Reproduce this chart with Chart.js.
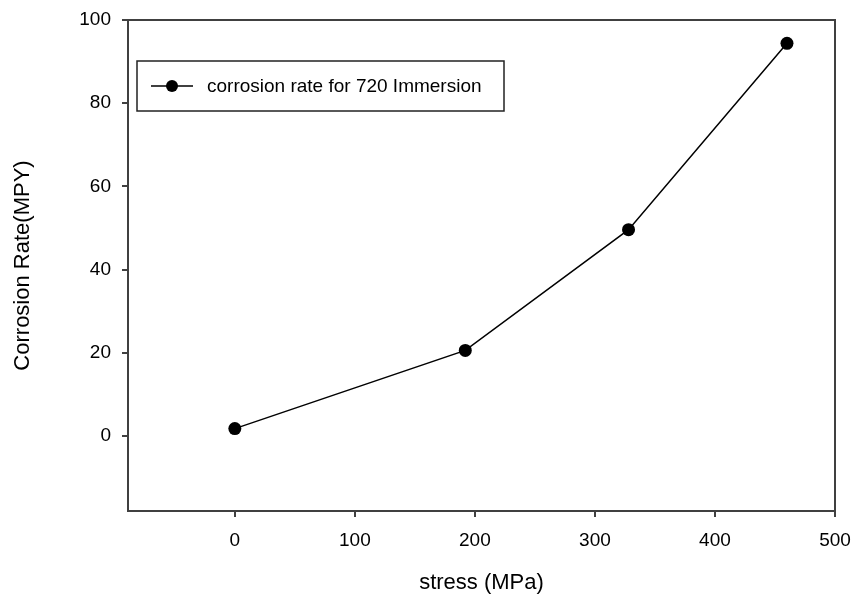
<!DOCTYPE html>
<html>
<head>
<meta charset="utf-8">
<script src="https://cdn.jsdelivr.net/npm/chart.js@4"></script>
<style>
  html, body { margin: 0; padding: 0; background: #fff; }
  #wrap { width: 854px; height: 594px; position: relative; }
</style>
</head>
<body>
<div id="wrap"><canvas id="corrChart"></canvas></div>
<script>
// data
const stress = [0, 192, 328, 460];
const corrosionRate = [1.8, 20.6, 49.6, 94.4];
const seriesLabel = 'corrosion rate for 720 Immersion';
const xTicks = [0, 100, 200, 300, 400, 500];
const yTicks = [0, 20, 40, 60, 80, 100];

const axisColor = '#404040';
const fontFamily = 'Liberation Sans, Arial, sans-serif';

// box round the plot area (top and right sides)
const framePlugin = {
    id: 'frame',
    afterDraw(chart) {
        const a = chart.chartArea;
        const ctx = chart.ctx;
        ctx.save();
        ctx.strokeStyle = axisColor;
        ctx.lineWidth = 2;
        ctx.beginPath();
        ctx.moveTo(a.left, a.top);
        ctx.lineTo(a.right, a.top);
        ctx.lineTo(a.right, a.bottom);
        ctx.stroke();
        ctx.restore();
    }
};

// legend box inside the plot
const boxLegend = {
    id: 'boxLegend',
    afterDraw(chart) {
        const ctx = chart.ctx;
        const ds = chart.data.datasets[0];
        const x0 = 137, y0 = 61, w = 367, h = 50;
        ctx.save();
        ctx.fillStyle = '#fff';
        ctx.fillRect(x0, y0, w, h);
        ctx.strokeStyle = '#222';
        ctx.lineWidth = 1.5;
        ctx.strokeRect(x0, y0, w, h);
        const cy = y0 + h / 2;
        ctx.strokeStyle = '#000';
        ctx.lineWidth = 1.5;
        ctx.beginPath();
        ctx.moveTo(151, cy);
        ctx.lineTo(193, cy);
        ctx.stroke();
        ctx.fillStyle = '#000';
        ctx.beginPath();
        ctx.arc(172, cy, 6, 0, Math.PI * 2);
        ctx.fill();
        ctx.font = '19px ' + fontFamily;
        ctx.textBaseline = 'middle';
        ctx.fillText(ds.label, 207, cy + 1);
        ctx.restore();
    }
};

const ctx = document.getElementById('corrChart').getContext('2d');
const myChart = new Chart(ctx, {
    type: 'scatter',
    data: {
        datasets: [{
            label: seriesLabel,
            data: stress.map((s, i) => ({x: s, y: corrosionRate[i]})),
            showLine: true,
            borderColor: '#000',
            borderWidth: 1.5,
            pointRadius: 6.5,
            pointHoverRadius: 6.5,
            pointBackgroundColor: '#000',
            pointBorderWidth: 0,
            clip: false
        }]
    },
    options: {
        responsive: true,
        maintainAspectRatio: false,
        animation: false,
        layout: {
            padding: {top: 20, right: 19, left: 0, bottom: 0}
        },
        scales: {
            x: {
                type: 'linear',
                min: -89,
                max: 500,
                afterBuildTicks: (scale) => { scale.ticks = xTicks.map(v => ({value: v})); },
                afterFit: (scale) => {
                    scale.height = 83;
                    scale.paddingLeft = 0;
                    scale.paddingRight = 0;
                },
                border: {display: true, color: axisColor, width: 2},
                grid: {drawOnChartArea: false, drawTicks: true, tickLength: 6, color: axisColor, lineWidth: 2},
                ticks: {color: '#000', font: {size: 19, family: fontFamily}, padding: 12, maxRotation: 0},
                title: {display: true, text: 'stress (MPa)', color: '#000', font: {size: 22, family: fontFamily}, padding: {top: 0, bottom: -2}}
            },
            y: {
                min: -18,
                max: 100,
                afterBuildTicks: (scale) => { scale.ticks = yTicks.map(v => ({value: v})); },
                afterFit: (scale) => {
                    scale.width = 128;
                    scale.paddingTop = 0;
                    scale.paddingBottom = 0;
                },
                border: {display: true, color: axisColor, width: 2},
                grid: {drawOnChartArea: false, drawTicks: true, tickLength: 6, color: axisColor, lineWidth: 2},
                ticks: {color: '#000', font: {size: 19, family: fontFamily}, padding: 11},
                title: {display: true, text: 'Corrosion Rate(MPY)', color: '#000', font: {size: 22, family: fontFamily}, padding: {top: 10, bottom: 0}}
            }
        },
        plugins: {
            legend: {display: false},
            tooltip: {enabled: false}
        }
    },
    plugins: [framePlugin, boxLegend]
});
</script>
</body>
</html>
